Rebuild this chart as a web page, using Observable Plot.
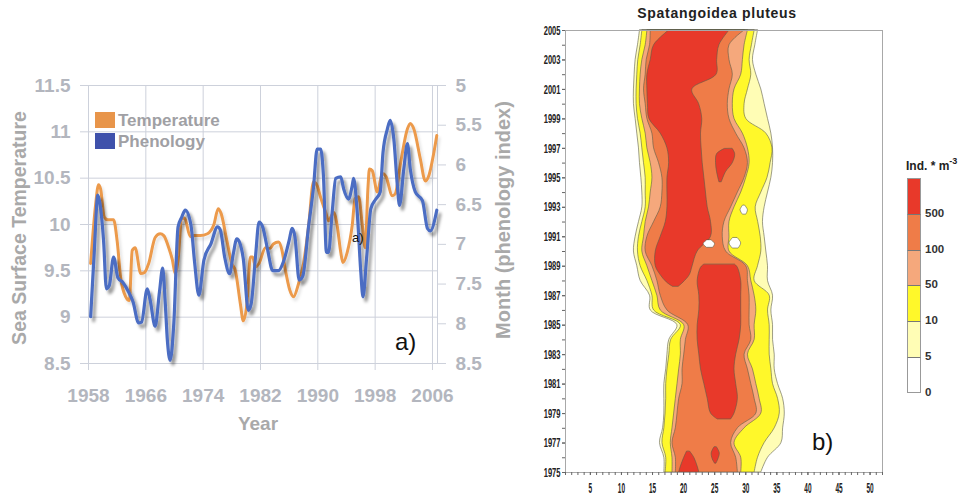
<!DOCTYPE html>
<html><head><meta charset="utf-8">
<script src="https://cdn.jsdelivr.net/npm/d3@7"></script>
<script src="https://cdn.jsdelivr.net/npm/@observablehq/plot@0.6"></script>
<style>
body{margin:0;background:#fff;}
#wrap{position:relative;width:972px;height:497px;overflow:hidden;font-family:"Liberation Sans",Arial,sans-serif;background:#fff;}
.abs{position:absolute;white-space:nowrap;line-height:1;}
svg{position:absolute;top:0;}
</style></head><body><div id="wrap"></div>
<script>
// ---------- Panel a) data ----------
const tempYear = [1958.3,1959.0,1959.4,1959.7,1960.2,1960.7,1961.5,1962.0,1962.5,1963.2,1963.7,1964.1,1964.5,1965.3,1965.8,1966.4,1967.3,1968.0,1968.5,1969.2,1969.7,1970.1,1970.5,1971.0,1971.4,1972.2,1972.7,1973.6,1974.6,1975.5,1976.1,1976.5,1977.3,1978.0,1978.5,1979.2,1979.6,1980.1,1980.6,1980.9,1981.3,1981.8,1982.7,1983.3,1983.8,1984.5,1985.0,1985.4,1986.1,1986.6,1987.3,1988.0,1988.7,1989.4,1989.9,1990.4,1991.1,1991.5,1992.2,1992.7,1993.2,1993.5,1994.1,1994.8,1995.2,1995.7,1996.2,1996.6,1997.0,1997.2,1997.6,1998.3,1999.0,1999.5,2000.4,2000.8,2001.5,2002.5,2002.9,2003.4,2004.3,2005.0,2005.5,2006.2,2006.6];
const tempValue = [9.58,10.22,10.43,10.38,10.08,10.05,10.05,9.82,9.42,9.22,9.18,9.72,9.75,9.47,9.48,9.58,9.86,9.90,9.88,9.75,9.62,9.47,9.62,10.06,10.07,9.87,9.88,9.88,9.90,10.0,10.17,10.12,9.83,9.58,9.5,9.14,8.96,9.14,9.65,9.65,9.54,9.58,9.75,9.74,9.79,9.81,9.72,9.54,9.29,9.22,9.36,9.58,9.97,10.46,10.42,10.29,10.13,10.04,10.13,9.99,9.70,9.59,9.70,9.99,10.28,10.30,10.0,9.75,10.4,10.6,10.58,10.35,10.55,10.52,10.31,10.33,10.64,11.03,11.09,11.03,10.71,10.47,10.53,10.78,10.96];
const phenYear = [1958.3,1958.8,1959.3,1959.6,1960.1,1960.5,1960.9,1961.5,1962.1,1962.8,1963.6,1964.2,1965.0,1965.4,1966.2,1966.6,1967.3,1967.9,1968.35,1968.7,1969.0,1969.4,1969.9,1970.5,1971.0,1971.5,1972.3,1972.8,1973.4,1974.1,1975.1,1976.0,1976.4,1977.0,1977.7,1978.2,1978.7,1979.1,1979.6,1980.3,1980.7,1981.3,1981.8,1982.3,1983.0,1983.7,1984.5,1985.2,1986.0,1986.4,1986.8,1987.4,1987.9,1988.7,1989.4,1989.9,1990.4,1990.8,1991.2,1991.5,1992.0,1992.5,1993.2,1993.6,1994.3,1994.8,1995.0,1995.5,1996.0,1996.3,1996.8,1997.4,1998.1,1998.7,1999.1,1999.7,2000.1,2000.6,2001.1,2001.4,2002.0,2002.5,2002.9,2003.6,2004.6,2005.3,2005.7,2006.6];
const phenValue = [7.91,7.1,6.38,6.49,6.95,7.56,7.52,7.16,7.42,7.48,7.6,7.72,7.99,7.98,7.56,7.7,8.03,7.6,7.3,7.72,8.2,8.46,8.0,6.78,6.66,6.57,6.76,7.22,7.64,7.2,6.99,6.78,6.82,7.16,7.37,7.12,6.93,6.98,7.18,7.83,7.75,7.16,6.72,6.78,7.07,7.33,7.33,7.22,6.95,6.8,6.9,7.45,7.4,6.78,6.28,5.8,5.8,6.17,7.1,7.1,6.6,6.17,6.15,6.3,6.43,6.26,6.17,6.6,7.35,7.66,7.18,6.55,6.43,6.34,5.84,5.55,5.44,5.67,6.26,6.51,6.05,5.73,6.05,6.34,6.45,6.8,6.83,6.57];
const yearTicks = [1958,1966,1974,1982,1990,1998,2006];
const sstTicks = [8.5,9,9.5,10,10.5,11,11.5];
const phenTicks = [5,5.5,6,6.5,7,7.5,8,8.5];
const seriesNames = ["Temperature","Phenology"];
const seriesColors = ["#ec9a4c","#4b6dc3"];

// ---------- Panel b) data (week boundaries of each abundance class per year) ----------
const cYears = [2005,2004,2003,2002,2001,2000,1999,1998,1997,1996,1995,1994,1993,1992,1991,1990,1989,1988,1987,1986,1985,1984,1983,1982,1981,1980,1979,1978,1977,1976,1975];
const l5Left   = [12.98,12.66,12.28,12.12,12.01,12.01,12.28,12.55,12.82,12.98,13.2,13.36,13.36,12.82,12.28,12.01,12.55,13.09,14.6,14.71,19.0,17.7,17.4,17.2,16.9,16.9,16.9,16.7,16.2,16.9,16.9];
const l5Right  = [31.97,31.54,31.16,31.7,32.5,33.04,33.58,34.12,34.39,34.39,34.12,33.58,33.04,32.77,33.04,33.31,33.58,33.58,34.39,34.12,34.39,34.39,34.66,34.66,35.2,36.01,36.28,36.01,35.74,33.58,32.5];
const l10Left  = [13.36,13.09,12.71,12.55,12.44,12.44,12.66,13.09,13.36,13.63,13.9,13.9,13.9,13.36,12.82,12.66,13.09,14.17,14.98,15.25,19.56,18.0,17.7,17.4,17.2,17.2,17.1,16.9,16.6,17.2,17.1];
const l10Right = [31.43,30.99,30.62,30.89,30.35,29.81,30.08,33.31,34.3,34.0,33.5,32.5,31.6,32.0,32.4,32.5,31.97,31.43,33.85,33.58,33.85,33.85,33.85,34.12,34.39,35.2,35.47,34.66,33.04,31.97,31.43];
const l50Left  = [14.17,13.9,13.36,13.09,12.98,12.98,13.36,13.9,14.17,14.71,14.98,14.71,14.44,13.9,13.63,13.36,14.17,14.98,15.78,16.32,20.1,19.56,19.56,19.29,19.02,18.75,18.48,18.21,17.94,18.21,18.21];
const l50Right = [30.35,29.81,29.54,29.27,28.19,27.92,28.19,29.54,30.35,30.62,30.08,29.27,28.19,27.38,27.38,27.38,30.35,30.89,31.43,31.7,31.43,31.43,30.35,31.16,31.7,32.23,32.5,29.81,28.19,29.27,29.27];
const l100Left = [14.71,14.6,14.06,13.9,13.63,13.9,14.17,14.98,15.25,16.05,16.59,16.59,16.32,15.25,14.17,13.9,14.98,15.78,16.32,17.4,20.75,20.37,20.1,19.83,19.83,19.29,19.02,18.75,18.21,18.75,18.75];
const l100Right= [29.81,27.38,27.38,27.92,27.38,27.11,27.38,28.46,29.81,30.35,29.81,28.73,27.65,26.57,26.3,26.84,30.08,30.35,30.62,30.62,30.62,30.89,29.81,30.35,30.89,31.43,31.7,28.73,27.65,28.46,28.73];
const redAYears = [2005,2004,2003,2002,2001,2000,1999,1998,1997,1996,1995,1994,1993,1992,1991,1990,1989,1988.4,1987.9,1987.6];
const redALeft  = [17.67,15.25,14.71,14.17,14.17,14.27,14.5,16.32,17.4,17.67,17.4,17.4,17.4,17.13,16.32,15.52,15.52,16.3,17.3,18.3];
const redARight = [27.38,25.76,25.4,25.3,21.4,22.5,23.0,22.8,22.9,23.07,23.34,23.6,23.88,24.41,24.41,22.26,21.45,21.0,20.0,19.2];
const redBYears = [1989.1,1988.9,1988,1987,1986,1985,1984,1983,1982,1981,1980,1979,1978.6];
const redBLeft  = [23.3,22.8,22.26,22.53,22.53,22.26,22.26,22.53,22.8,23.34,23.88,24.41,25.49];
const redBRight = [28.3,28.73,29.27,29.27,29.27,29.27,29.0,28.46,28.19,28.46,28.73,28.19,27.65];
const redCYears = [1996.95,1996.6,1996,1995.4,1994.7];
const redCLeft  = [26.57,25.38,25.22,25.38,25.76];
const redCRight = [27.92,28.3,27.92,26.84,26.14];
const redDYears = [1976.4,1976,1975.4,1975];
const redDLeft  = [20.53,20.1,19.56,19.29];
const redDRight = [21.07,21.72,22.26,22.53];
const redEYears = [1976.7,1976.3,1975.9,1975.6];
const redELeft  = [24.95,24.52,24.68,25.06];
const redERight = [25.38,25.82,25.6,25.28];
const holeYears = [[1990.75,1990.5,1990.25],[1990.9,1990.55,1990.2],[1993.1,1992.8,1992.5]];
const holeLeft  = [[23.77,23.23,23.77],[27.92,27.38,27.92],[29.54,29.16,29.54]];
const holeRight = [[24.52,25.06,24.74],[28.73,29.27,28.84],[29.92,30.35,30.08]];
const weekTicks = [5,10,15,20,25,30,35,40,45,50];
const classLabels = ["0","5","10","50","100","500"];
const classColors = ["#ffffff","#fffdb5","#fff82a","#f5a87c","#ef7c48","#e8392a"];

// ---------- helpers ----------
const rows = (ys, L, R) => ys.map((y, i) => ({year: y, left: L[i], right: R[i]}));
const toT = p => 11.5 - (p - 5) * 3 / 3.5;
const font = "Liberation Sans, Arial, sans-serif";
const gridC = "#cdd1db", tickC = "#b3b6be";

const wrap = document.getElementById("wrap");

// ---------- Panel a) ----------
const temp = tempYear.map((y, i) => ({year: y, v: tempValue[i]}));
const phen = phenYear.map((y, i) => ({year: y, v: phenValue[i]}));
const left = Plot.plot({
  width: 520, height: 497,
  marginLeft: 88, marginRight: 83, marginTop: 85, marginBottom: 134,
  x: {domain: [1958, 2006.7]},
  y: {domain: [8.5, 11.5]},
  style: {fontFamily: font, fontSize: "19px", fontWeight: "bold", background: "transparent", overflow: "visible"},
  marks: [
    Plot.gridX(yearTicks, {stroke: gridC, strokeOpacity: 1}),
    Plot.gridY(sstTicks, {stroke: gridC, strokeOpacity: 1}),
    Plot.frame({anchor: "right", stroke: gridC}),
    Plot.axisX(yearTicks, {tickSize: 7, tickPadding: 18, stroke: gridC, fill: tickC, tickFormat: d => String(d), label: null}),
    Plot.axisY(sstTicks, {tickSize: 8, tickPadding: 10, stroke: gridC, fill: tickC, tickFormat: d => String(d), label: null}),
    Plot.axisY(phenTicks, {anchor: "right", y: toT, tickSize: 8, tickPadding: 10, stroke: gridC, fill: tickC, tickFormat: d => String(d), label: null}),
    Plot.line(temp, {x: "year", y: "v", stroke: seriesColors[0], strokeWidth: 3, curve: "monotone-x"}),
    Plot.line(phen, {x: "year", y: d => toT(d.v), stroke: seriesColors[1], strokeWidth: 3.2, curve: "monotone-x"})
  ]
});
left.style.left = "0px";
d3.select(left).insert("defs", ":first-child").html(
  `<filter id="shadowB" filterUnits="userSpaceOnUse" x="0" y="0" width="520" height="497">
     <feGaussianBlur in="SourceAlpha" stdDeviation="1.8"/>
     <feOffset dx="2.5" dy="3.5" result="o"/>
     <feFlood flood-color="#000" flood-opacity="0.4"/>
     <feComposite in2="o" operator="in"/>
     <feMerge><feMergeNode/><feMergeNode in="SourceGraphic"/></feMerge>
   </filter>
   <filter id="shadowO" filterUnits="userSpaceOnUse" x="0" y="0" width="520" height="497">
     <feGaussianBlur in="SourceAlpha" stdDeviation="1.5"/>
     <feOffset dx="2" dy="3" result="o"/>
     <feFlood flood-color="#000" flood-opacity="0.12"/>
     <feComposite in2="o" operator="in"/>
     <feMerge><feMergeNode/><feMergeNode in="SourceGraphic"/></feMerge>
   </filter>`);
const lineGs = left.querySelectorAll('g[aria-label="line"]');
if (lineGs[0]) lineGs[0].setAttribute("filter", "url(#shadowO)");
if (lineGs[1]) lineGs[1].setAttribute("filter", "url(#shadowB)");
wrap.appendChild(left);

function addText(txt, css) {
  const d = document.createElement("div");
  d.className = "abs";
  d.innerHTML = txt;
  Object.assign(d.style, css);
  wrap.appendChild(d);
  return d;
}
// axis titles
addText("Sea Surface Temperature", {left: "20px", top: "228px", transform: "translate(-50%,-50%) rotate(-90deg)", fontSize: "19.5px", fontWeight: "bold", color: "#a9a9a9"});
addText("Month (phenology index)", {left: "503px", top: "220px", transform: "translate(-50%,-50%) rotate(-90deg)", fontSize: "20px", fontWeight: "bold", color: "#a9a9a9"});
addText("Year", {left: "258px", top: "423px", transform: "translate(-50%,-50%)", fontSize: "19px", fontWeight: "bold", color: "#a9a9a9"});
// legend
seriesNames.forEach((n, i) => {
  const sq = document.createElement("div");
  sq.className = "abs";
  Object.assign(sq.style, {left: "95px", top: (112 + i * 21) + "px", width: "20px", height: "16px", background: i ? "#3f51ab" : "#e8954a"});
  wrap.appendChild(sq);
  addText(n, {left: "118px", top: (112 + i * 21) + "px", fontSize: "17px", fontWeight: "bold", color: "#a0a0a4"});
});
addText("a)", {left: "352px", top: "231px", fontSize: "13px", color: "#111"});
addText("a)", {left: "395px", top: "330px", fontSize: "24px", color: "#111"});

// ---------- Panel b) ----------
const areaOpts = (fill) => ({y: "year", x1: "left", x2: "right", fill, stroke: "#5c5c48", strokeWidth: 0.6, curve: "catmull-rom"});
const right = Plot.plot({
  width: 452, height: 497,
  marginLeft: 45, marginRight: 90, marginTop: 30, marginBottom: 25,
  x: {domain: [1, 52]},
  y: {domain: [1975, 2005]},
  style: {fontFamily: font, fontSize: "13px", fontWeight: "bold", background: "transparent", overflow: "visible"},
  marks: [
    Plot.areaX(rows(cYears, l5Left, l5Right), areaOpts(classColors[1])),
    Plot.areaX(rows(cYears, l10Left, l10Right), areaOpts(classColors[2])),
    Plot.areaX(rows(cYears, l50Left, l50Right), areaOpts(classColors[3])),
    Plot.areaX(rows(cYears, l100Left, l100Right), areaOpts(classColors[4])),
    Plot.areaX(rows(redAYears, redALeft, redARight), areaOpts(classColors[5])),
    Plot.areaX(rows(redBYears, redBLeft, redBRight), areaOpts(classColors[5])),
    Plot.areaX(rows(redCYears, redCLeft, redCRight), areaOpts(classColors[5])),
    Plot.areaX(rows(redDYears, redDLeft, redDRight), areaOpts(classColors[5])),
    Plot.areaX(rows(redEYears, redELeft, redERight), areaOpts(classColors[5])),
    ...holeYears.map((ys, k) => Plot.areaX(rows(ys, holeLeft[k], holeRight[k]), areaOpts(classColors[0]))),
    Plot.frame({stroke: "#a8a8a8"}),
    Plot.axisY(d3.range(1975, 2006), {tickSize: 3, stroke: "#666", fill: "none", label: null}),
    Plot.axisY(d3.range(1975, 2006, 2), {tickSize: 3, tickPadding: 2, stroke: "#666", fill: "#222", tickFormat: d => String(d), label: null}),
    Plot.axisX(d3.range(1, 53), {tickSize: 3, stroke: "#666", fill: "none", label: null}),
    Plot.axisX(weekTicks, {tickSize: 3, tickPadding: 7, stroke: "#666", fill: "#222", fontSize: 15, tickFormat: d => String(d), label: null})
  ]
});
right.style.left = "520px";
right.querySelectorAll('g[aria-label="y-axis tick label"] text').forEach(t => {
  t.setAttribute("textLength", 4.2 * t.textContent.length);
  t.setAttribute("lengthAdjust", "spacingAndGlyphs");
});
right.querySelectorAll('g[aria-label="x-axis tick label"] text').forEach(t => {
  t.setAttribute("textLength", 3.6 * t.textContent.length);
  t.setAttribute("lengthAdjust", "spacingAndGlyphs");
});
wrap.appendChild(right);

addText("Spatangoidea pluteus", {left: "717px", top: "12.5px", transform: "translate(-50%,-50%)", fontSize: "14px", fontWeight: "bold", letterSpacing: "0.7px", color: "#222"});
addText("Ind. * m<sup style='font-size:9px;vertical-align:6px'>-3</sup>", {left: "906px", top: "157px", fontSize: "12px", fontWeight: "bold", color: "#222"});
// colour key
const boxTop = 178, boxH = 35.8;
for (let k = classColors.length - 1; k >= 0; k--) {
  const idx = classColors.length - 1 - k; // 0 at top
  const b = document.createElement("div");
  b.className = "abs";
  Object.assign(b.style, {left: "907px", top: (boxTop + idx * boxH) + "px", width: "14px", height: boxH + "px", background: classColors[k], boxSizing: "border-box", borderLeft: "1px solid #999", borderRight: "1px solid #999", borderTop: idx === 0 ? "1px solid #999" : "1px solid #777", borderBottom: k === 0 ? "1px solid #999" : "none"});
  wrap.appendChild(b);
}
classLabels.forEach((lab, k) => {
  const y = boxTop + (classLabels.length - k) * boxH;
  addText(lab, {left: "925px", top: y + "px", transform: "translateY(-50%)", fontSize: "11.5px", fontWeight: "bold", color: "#333"});
});
addText("b)", {left: "812px", top: "430px", fontSize: "24px", color: "#111"});
</script></body></html>
